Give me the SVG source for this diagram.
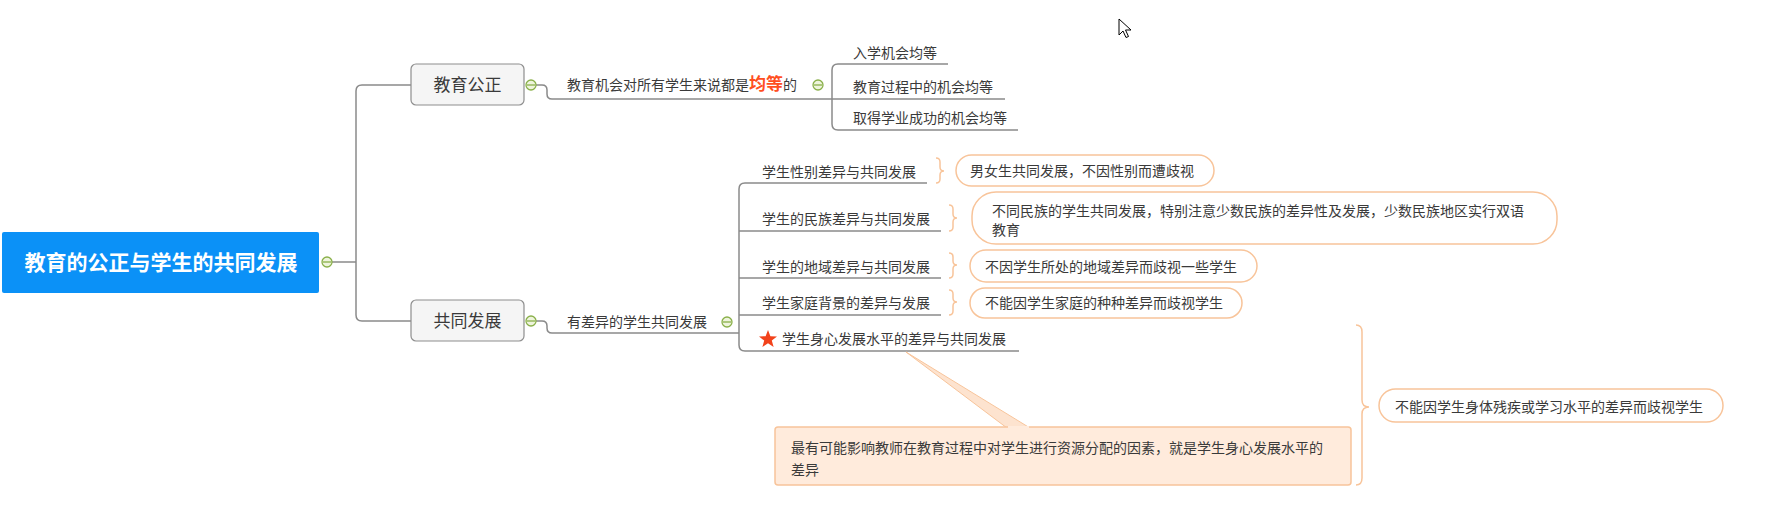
<svg xmlns="http://www.w3.org/2000/svg" width="1770" height="526" viewBox="0 0 1770 526">
<defs>
<style>
text{font-family:"Noto Sans CJK SC","Noto Sans",sans-serif;fill:#3a3a3a;font-size:14px}
.ln{fill:none;stroke:#8a8a8a;stroke-width:1.5}
.br{fill:none;stroke:#F8C49A;stroke-width:1.5}
.co{fill:#fff;stroke:#F8C49A;stroke-width:1.5}
.box{fill:#F5F5F5;stroke:#8e8e8e;stroke-width:1.2}
.cc{fill:#EEF4DC;stroke:#8AB04A;stroke-width:1.3}
.cm{stroke:#8AB04A;stroke-width:1.3}
</style>
<g id="collapse"><circle class="cc" cx="0" cy="0" r="5"/><line class="cm" x1="-4" y1="0" x2="4" y2="0"/></g>
</defs>
<rect width="1770" height="526" fill="#fff"/>

<g id="connectors">
<path class="ln" d="M332 262 H356"/>
<path class="ln" d="M411 85 H362 Q356 85 356 91 V315 Q356 321 362 321 H411"/>
<path class="ln" d="M536 85 H542 Q547 85 547 90 V94 Q547 99 552 99 H832"/>
<path class="ln" d="M948 64 H838 Q832 64 832 70 V124 Q832 130 838 130 H1018"/>
<path class="ln" d="M832 99 H1005"/>
<path class="ln" d="M536 321 H542 Q547 321 547 326 V328 Q547 333 552 333 H739"/>
<path class="ln" d="M927 183 H745 Q739 183 739 189 V345 Q739 351 745 351 H1019"/>
<path class="ln" d="M739 231 H941 M739 278 H941 M739 315 H941"/>
<path class="br" d="M936 158 Q940 158 940 162 V167 Q940 171 944 171 Q940 171 940 175 V179 Q940 183 936 183"/>
<path class="br" d="M949 205 Q953 205 953 209 V214 Q953 218 957 218 Q953 218 953 222 V227 Q953 231 949 231"/>
<path class="br" d="M949 253 Q953 253 953 257 V261 Q953 265 957 265 Q953 265 953 269 V274 Q953 278 949 278"/>
<path class="br" d="M949 290 Q953 290 953 294 V298 Q953 302 957 302 Q953 302 953 306 V311 Q953 315 949 315"/>
<path class="br" d="M1356 325 Q1362 325 1362 332 V400 Q1362 407 1369 407 Q1362 407 1362 414 V478 Q1362 485 1356 485"/>
</g>

<g id="root">
<rect x="2" y="232" width="317" height="61" rx="2" fill="#0B91F7"/>
<text x="161" y="270" text-anchor="middle" style="font-size:21px;font-weight:bold;fill:#fff">教育的公正与学生的共同发展</text>
<use href="#collapse" x="327" y="262"/>
</g>

<g id="n-gongzheng">
<rect class="box" x="411" y="64" width="113" height="41" rx="5"/>
<text x="467.5" y="91" text-anchor="middle" style="font-size:17px">教育公正</text>
<use href="#collapse" x="531" y="85"/>
</g>

<g id="n-fazhan">
<rect class="box" x="411" y="300" width="113" height="41" rx="5"/>
<text x="467.5" y="327" text-anchor="middle" style="font-size:17px">共同发展</text>
<use href="#collapse" x="531" y="321"/>
</g>

<g id="n-jihui">
<text x="567" y="90">教育机会对所有学生来说都是<tspan style="font-size:17px;font-weight:bold;fill:#FF4F1F">均等</tspan>的</text>
<use href="#collapse" x="818" y="85"/>
</g>

<g id="n-ruxue"><text x="853" y="58">入学机会均等</text></g>
<g id="n-guocheng"><text x="853" y="92">教育过程中的机会均等</text></g>
<g id="n-chenggong"><text x="853" y="123">取得学业成功的机会均等</text></g>

<g id="n-chayi">
<text x="567" y="327">有差异的学生共同发展</text>
<use href="#collapse" x="727" y="322"/>
</g>

<g id="n-xingbie"><text x="762" y="177">学生性别差异与共同发展</text></g>
<g id="n-minzu"><text x="762" y="224">学生的民族差异与共同发展</text></g>
<g id="n-diyu"><text x="762" y="272">学生的地域差异与共同发展</text></g>
<g id="n-jiating"><text x="762" y="308">学生家庭背景的差异与发展</text></g>
<g id="n-shenxin">
<polygon points="768,330 770.4,336.2 777,336.5 771.8,340.6 773.6,347 768,343.3 762.4,347 764.2,340.6 759,336.5 765.6,336.2" fill="#F2421B"/>
<text x="782" y="344">学生身心发展水平的差异与共同发展</text>
</g>

<g id="c-xingbie">
<rect class="co" x="956" y="155" width="258" height="31" rx="15.5"/>
<text x="970" y="176">男女生共同发展，不因性别而遭歧视</text>
</g>
<g id="c-minzu">
<rect class="co" x="972" y="192" width="585" height="52" rx="24"/>
<text x="992" y="216">不同民族的学生共同发展，特别注意少数民族的差异性及发展，少数民族地区实行双语</text>
<text x="992" y="235">教育</text>
</g>
<g id="c-diyu">
<rect class="co" x="970" y="250" width="287" height="32" rx="16"/>
<text x="985" y="272">不因学生所处的地域差异而歧视一些学生</text>
</g>
<g id="c-jiating">
<rect class="co" x="970" y="288" width="272" height="30" rx="15"/>
<text x="985" y="308">不能因学生家庭的种种差异而歧视学生</text>
</g>
<g id="c-shenxin">
<rect class="co" x="1379" y="389" width="344" height="33" rx="16.5"/>
<text x="1395" y="412">不能因学生身体残疾或学习水平的差异而歧视学生</text>
</g>

<g id="note">
<polygon points="906,352 1007,428 1030,428" fill="#FDE3CF" stroke="#F8C49A" stroke-width="1"/>
<rect x="775" y="427" width="576" height="58" rx="3" fill="#FFEBDC" stroke="#F8C49A" stroke-width="1.5"/>
<line x1="1008" y1="427" x2="1029" y2="427" stroke="#FFEBDC" stroke-width="2"/>
<text x="791" y="453">最有可能影响教师在教育过程中对学生进行资源分配的因素，就是学生身心发展水平的</text>
<text x="791" y="475">差异</text>
</g>

<polygon points="1119,19 1119,35 1123,31 1126,37.5 1128.5,36.5 1125.5,30 1131,30" fill="#fff" stroke="#000" stroke-width="1"/>
</svg>
